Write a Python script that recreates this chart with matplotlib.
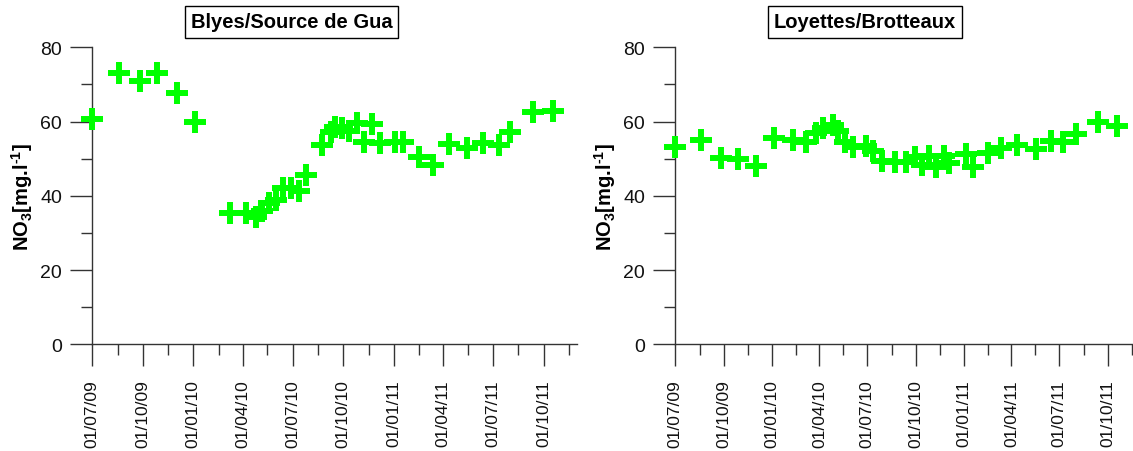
import matplotlib
matplotlib.use("Agg")
import matplotlib.pyplot as plt
import matplotlib.dates as mdates
import pandas as pd

# Nitrate concentrations (mg/l)
blyes_dates = [
    "2009-07-01", "2009-08-18", "2009-09-25", "2009-10-27", "2009-12-02", "2010-01-04",
    "2010-03-09", "2010-04-06", "2010-04-25", "2010-05-06", "2010-05-18", "2010-06-01",
    "2010-06-14", "2010-06-27", "2010-07-12", "2010-07-26", "2010-08-24", "2010-09-08",
    "2010-09-15", "2010-09-28", "2010-10-12", "2010-10-26", "2010-11-08", "2010-11-22",
    "2010-12-07", "2011-01-03", "2011-01-17", "2011-02-15", "2011-03-13", "2011-04-12",
    "2011-05-15", "2011-06-13", "2011-07-11", "2011-08-01", "2011-09-12", "2011-10-17",
]
blyes_no3 = [
    60.7, 73.1, 71.0, 73.2, 67.8, 60.0,
    35.4, 35.4, 34.4, 36.0, 38.0, 38.9,
    42.0, 42.0, 41.2, 45.6, 53.6, 57.1,
    58.6, 58.2, 57.5, 59.6, 54.5, 59.4,
    54.3, 54.4, 54.6, 50.5, 48.4, 54.0,
    52.9, 54.1, 53.8, 57.1, 62.5, 62.8,
]

loyettes_dates = [
    "2009-07-01", "2009-08-19", "2009-09-25", "2009-10-29", "2009-12-02", "2010-01-05",
    "2010-02-09", "2010-03-07", "2010-03-26", "2010-04-08", "2010-04-26", "2010-05-06",
    "2010-05-19", "2010-06-04", "2010-06-28", "2010-07-12", "2010-07-28", "2010-08-22",
    "2010-09-13", "2010-09-29", "2010-10-12", "2010-10-26", "2010-11-09", "2010-11-23",
    "2010-12-04", "2011-01-04", "2011-01-18", "2011-02-15", "2011-03-13", "2011-04-11",
    "2011-05-17", "2011-06-15", "2011-07-07", "2011-08-01", "2011-09-12", "2011-10-18",
]
loyettes_no3 = [
    53.2, 55.1, 50.2, 50.0, 48.0, 55.5,
    55.0, 54.4, 56.8, 58.3, 59.2, 57.4,
    54.6, 53.1, 53.5, 52.0, 49.5, 49.0,
    49.0, 50.4, 48.3, 50.6, 47.7, 50.6,
    48.8, 51.2, 47.7, 51.5, 52.8, 53.8,
    52.6, 54.8, 54.4, 56.6, 59.8, 58.9,
]

stations = ["Blyes/Source de Gua", "Loyettes/Brotteaux"]

plt.rcParams['font.family'] = ['Liberation Sans', 'DejaVu Sans']
plt.rcParams['mathtext.fontset'] = 'custom'
plt.rcParams['mathtext.rm'] = 'Liberation Sans:bold'
plt.rcParams['mathtext.it'] = 'Liberation Sans:bold'
plt.rcParams['mathtext.bf'] = 'Liberation Sans:bold'
plt.rcParams['mathtext.default'] = 'rm'

W, H = 1133, 452
fig = plt.figure(figsize=(W / 100, H / 100), dpi=100)


def px_axes(x0, x1, y0, y1):
    # pixel box (top-left origin) -> figure fraction
    return fig.add_axes([x0 / W, 1 - y1 / H, (x1 - x0) / W, (y1 - y0) / H])


panels = [
    (px_axes(92.3, 576.7, 48.3, 345.3), blyes_dates, blyes_no3, "2011-11-30", 291.5),
    (px_axes(675.3, 1133, 48.3, 345.3), loyettes_dates, loyettes_no3, "2011-11-18", 865),
]

for (ax, dates, vals, xend, title_x), name in zip(panels, stations):
    x = pd.to_datetime(dates)
    ax.plot(x, vals, linestyle='none', marker='+', markersize=16.5,
            markeredgewidth=4.3, color='#00ff00', clip_on=False, zorder=3)

    ax.set_xlim(pd.Timestamp("2009-07-01"), pd.Timestamp(xend))
    ax.set_ylim(0, 80)
    ax.set_yticks([0, 20, 40, 60, 80])
    ax.set_yticks([10, 30, 50, 70], minor=True)
    ax.xaxis.set_major_locator(mdates.MonthLocator(bymonth=(1, 4, 7, 10), bymonthday=1))
    ax.xaxis.set_minor_locator(mdates.MonthLocator(bymonth=(2, 5, 8, 11), bymonthday=16))
    ax.xaxis.set_major_formatter(mdates.DateFormatter('%d/%m/%y'))

    for side in ('top', 'right'):
        ax.spines[side].set_visible(False)
    for side in ('left', 'bottom'):
        ax.spines[side].set_color('#333333')
        ax.spines[side].set_linewidth(1.0)

    ax.tick_params(axis='both', which='major', direction='out', length=15.8,
                   width=1.0, color='#333333', labelcolor='#111111')
    ax.tick_params(axis='both', which='minor', direction='out', length=7.9,
                   width=1.0, color='#333333')
    ax.tick_params(axis='y', which='major', pad=6, labelsize=14)
    ax.tick_params(axis='x', which='major', pad=9.5, labelrotation=90, labelsize=12.5)

    ax.set_ylabel('NO$_3$[mg.l$^{\\text{-}1}$]', fontsize=14.5, fontweight='bold', labelpad=4)

    fig.text(title_x / W, 1 - 23 / H, name, ha='center', va='center',
             fontsize=14.5, fontweight='bold',
             bbox=dict(boxstyle='square,pad=0.3', facecolor='white',
                       edgecolor='black', linewidth=1.0))

fig.savefig('out.png', dpi=100, facecolor='white')
